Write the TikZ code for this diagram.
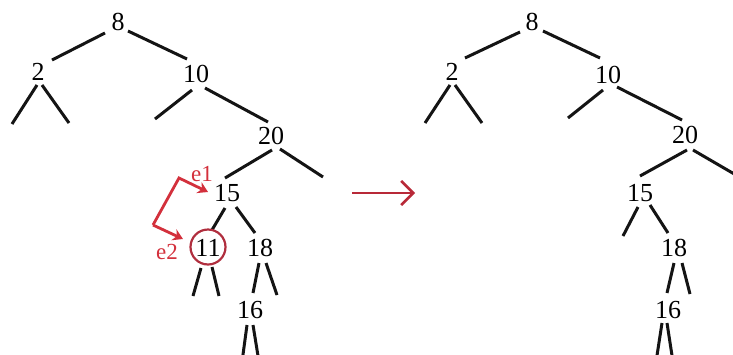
\documentclass[tikz,border=0pt]{standalone}
\usepackage{fontspec}
\setmainfont{Liberation Serif}
\usetikzlibrary{arrows.meta}
\definecolor{mark}{HTML}{D3303C}
\definecolor{ring}{HTML}{B02E3E}
\tikzset{
  num/.style={inner sep=0pt, font=\fontsize{26}{26}\selectfont},
  lab/.style={inner sep=0pt, text=mark, font=\fontsize{23}{23}\selectfont},
  edge/.style={line width=3pt, draw=black!92},
  ptr/.style={line width=2.8pt, draw=mark, -{Stealth[length=10pt,width=12pt]}},
  goes/.style={line width=2.6pt, draw=ring!90!red, -{Straight Barb[length=12pt,width=24pt]}},
}
\newcommand{\at}[3]{([shift={(#2,#3)}]#1.center)}
\begin{document}
\begin{tikzpicture}[x=1pt,y=-1pt]
\useasboundingbox (0,0) rectangle (733,354);
\clip (0,0) rectangle (733,354);

% ---------- tree before the deletion ----------
\node[num] (a8)  at (118,22)  {8};
\node[num] (a2)  at (38,72)   {2};
\node[num] (a10) at (196,74)  {10};
\node[num] (a20) at (271,136) {20};
\node[num] (a15) at (227,193) {15};
\node[num] (a11) at (208,248) {11};
\node[num] (a18) at (260,248) {18};
\node[num] (a16) at (250,310) {16};

\coordinate (a2l)  at (12,124);
\coordinate (a2r)  at (69,123);
\coordinate (a10l) at (155,119);
\coordinate (a20r) at (323,177);
\coordinate (a11l) at (193,296);
\coordinate (a11r) at (219,296);
\coordinate (a18r) at (277,295);
\coordinate (a16l) at (242,362);
\coordinate (a16r) at (259,362);

\draw[edge] \at{a8}{-13}{11} -- \at{a2}{14}{-12};
\draw[edge] \at{a8}{10}{9}   -- \at{a10}{-9}{-15};
\draw[edge] \at{a2}{-1}{13}  -- (a2l);
\draw[edge] \at{a2}{4}{13}   -- (a2r);
\draw[edge] \at{a10}{-4}{16} -- (a10l);
\draw[edge] \at{a10}{9}{14}  -- \at{a20}{-3}{-14};
\draw[edge] \at{a20}{1}{14}  -- \at{a15}{-2}{-15};
\draw[edge] \at{a20}{9}{13}  -- (a20r);
\draw[edge] \at{a15}{-2}{15} -- \at{a11}{4}{-18};
\draw[edge] \at{a15}{9}{14}  -- \at{a18}{-5}{-15};
\draw[edge] \at{a11}{-7}{20} -- (a11l);
\draw[edge] \at{a11}{4}{19}  -- (a11r);
\draw[edge] \at{a18}{-1}{15} -- \at{a16}{3}{-17};
\draw[edge] \at{a18}{6}{15}  -- (a18r);
\draw[edge] \at{a16}{-3}{15} -- (a16l);
\draw[edge] \at{a16}{3}{15}  -- (a16r);

% node being removed and its two pointers
\node[draw=ring, line width=2.2pt, circle, minimum size=35pt, inner sep=0pt] (ring) at (208,247) {};
\coordinate (fork) at (153,225);
\coordinate (bend) at (179,178);
\draw[ptr] (fork) -- (bend) -- \at{a15}{-19}{-1};
\draw[ptr] (fork) -- \at{ring}{-25}{-8};
\node[lab] (e1) at (202,174) {e1};
\node[lab] (e2) at (167,252) {e2};

% ---------- transition ----------
\coordinate (go1) at (352,193);
\coordinate (go2) at (415,193);
\draw[goes] (go1) -- (go2);

% ---------- tree after the deletion ----------
\node[num] (b8)  at (532,22)  {8};
\node[num] (b2)  at (452,72)  {2};
\node[num] (b10) at (608,75)  {10};
\node[num] (b20) at (685,135) {20};
\node[num] (b15) at (640,193) {15};
\node[num] (b18) at (674,248) {18};
\node[num] (b16) at (668,310) {16};

\coordinate (b2l)  at (425,123);
\coordinate (b2r)  at (482,123);
\coordinate (b10l) at (568,118);
\coordinate (b20r) at (748,182);
\coordinate (b15l) at (623,236);
\coordinate (b18r) at (690,294);
\coordinate (b16l) at (656,362);
\coordinate (b16r) at (673,362);

\draw[edge] \at{b8}{-12}{10}  -- \at{b2}{13}{-14};
\draw[edge] \at{b8}{11}{9}    -- \at{b10}{-8}{-17};
\draw[edge] \at{b2}{-2}{13}   -- (b2l);
\draw[edge] \at{b2}{3}{13}    -- (b2r);
\draw[edge] \at{b10}{-5}{15}  -- (b10l);
\draw[edge] \at{b10}{9}{12}   -- \at{b20}{-3}{-15};
\draw[edge] \at{b20}{2}{15}   -- \at{b15}{0}{-17};
\draw[edge] \at{b20}{8}{15}   -- (b20r);
\draw[edge] \at{b15}{-2}{14}  -- (b15l);
\draw[edge] \at{b15}{10}{12}  -- \at{b18}{-6}{-15};
\draw[edge] \at{b18}{0}{15}   -- \at{b16}{-1}{-17};
\draw[edge] \at{b18}{8}{15}   -- (b18r);
\draw[edge] \at{b16}{-6}{13}  -- (b16l);
\draw[edge] \at{b16}{-1}{13}  -- (b16r);
\end{tikzpicture}
\end{document}
